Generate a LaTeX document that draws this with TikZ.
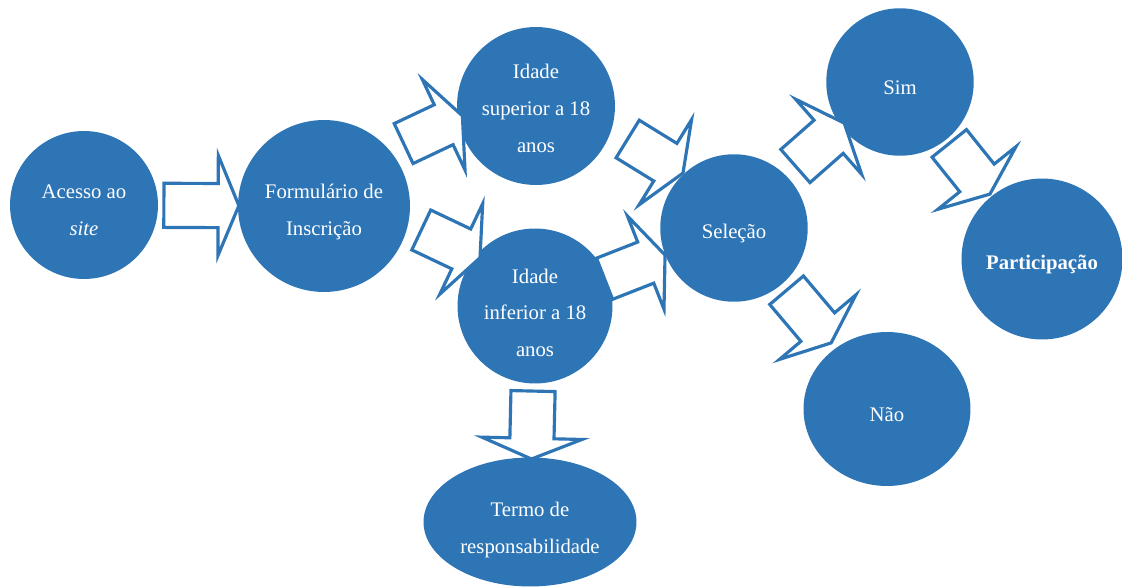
\documentclass[tikz,border=0pt]{standalone}
\usepackage{fontspec}
\setmainfont{Liberation Serif}
\usepackage{tikz}
\usetikzlibrary{shapes.geometric,shapes.arrows}
\definecolor{fluxblue}{RGB}{46,117,182}
\newcommand*\topo[1][14pt]{\rule{0pt}{#1}}

\begin{document}
\begin{tikzpicture}[x=0.02cm,y=-0.02cm,
		etapa/.style={circle,fill=fluxblue,text=white,align=center,inner sep=0pt,font=\fontsize{11.8}{21}\selectfont},
		seta/.style={single arrow,draw=fluxblue,fill=white,line width=1.8pt,inner xsep=0pt,inner ysep=0.41cm,
			minimum height=1.3cm,single arrow head extend=0.56cm,
			single arrow tip angle=135,sloped,allow upside down}]
		\useasboundingbox (0,0) rectangle (1122,588);
		% Draw the steps
		\node[etapa,minimum size=2.96cm] (acesso) at (84,205) {\topo Acesso ao\\\textit{site}};
		\node[etapa,minimum size=3.44cm] (form) at (324,206) {\topo[15pt]Formulário de\\Inscrição};
		\node[etapa,minimum size=3.16cm] (sup) at (536,106) {\topo[11pt]Idade\\superior a 18\\anos};
		\node[etapa,minimum size=3.1cm] (inf) at (535,306) {\topo[16pt]Idade\\inferior a 18\\anos};
		\node[etapa,minimum size=2.95cm] (selecao) at (734,228) {\topo Seleção};
		\node[etapa,minimum size=2.95cm] (sim) at (900,82) {\topo Sim};
		\node[etapa,minimum size=3.22cm] (part) at (1042,259) {\topo\textbf{Participação}};
		\node[etapa,ellipse,minimum width=3.34cm,minimum height=3.08cm] (nao) at (887,409) {\topo Não};
		\node[etapa,ellipse,minimum width=4.26cm,minimum height=2.58cm] (termo) at (530,522) {\topo[17pt]Termo de\\responsabilidade};
		% Draw the block arrows between the steps
		\path (acesso.center) -- (form.center) node[seta,pos=0.47,minimum height=1.5cm] (s1) {};
		\path (form.center) -- (sup.center) node[seta,pos=0.54,yshift=0.45cm] (s2) {};
		\path (form.center) -- (inf.center) node[seta,pos=0.54,yshift=0.4cm] (s3) {};
		\path (sup.center) -- (selecao.center) node[seta,pos=0.53,yshift=0.4cm] (s4) {};
		\path (inf.center) -- (selecao.center) node[seta,pos=0.48] (s5) {};
		\path (selecao.center) -- (sim.center) node[seta,pos=0.52,yshift=0.12cm] (s6) {};
		\path (selecao.center) -- (nao.center) node[seta,pos=0.47,minimum height=1.38cm] (s7) {};
		\path (sim.center) -- (part.center) node[seta,pos=0.47] (s8) {};
		\path (inf.center) -- (termo.center) node[seta,pos=0.53,minimum height=1.36cm] (s9) {};
\end{tikzpicture}
\end{document}
